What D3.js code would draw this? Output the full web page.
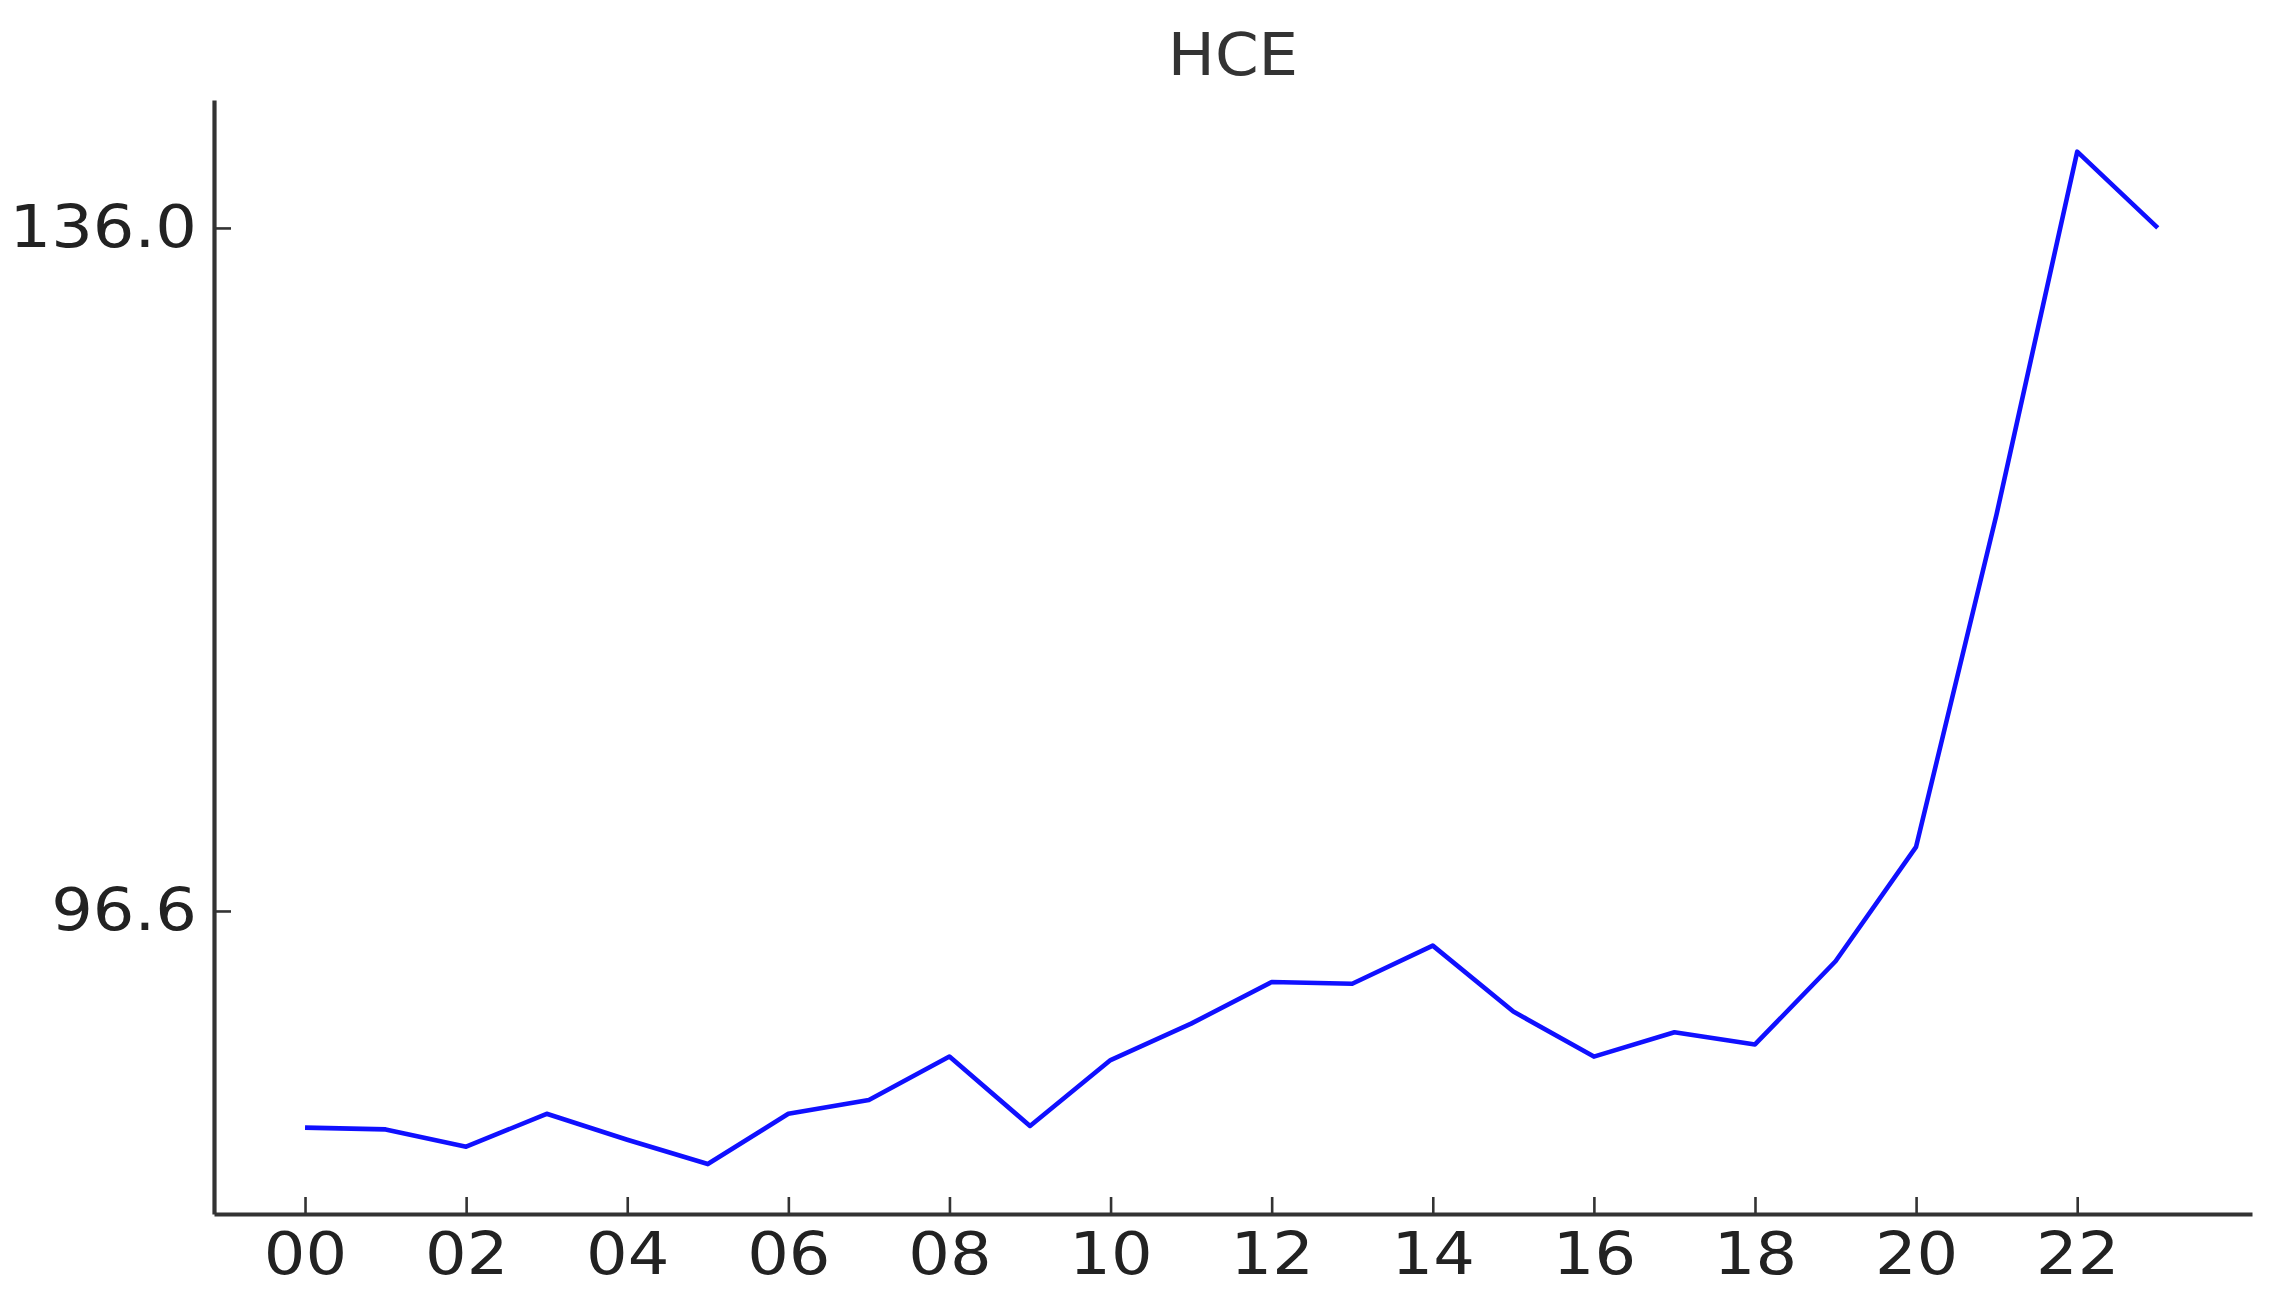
<!DOCTYPE html>
<html>
<head>
<meta charset="utf-8">
<script src="https://cdn.jsdelivr.net/npm/d3@7"></script>
<style>
  html, body { margin: 0; padding: 0; background: #fff; }
  svg { display: block; }
  text { font-family: "DejaVu Sans", sans-serif; }
</style>
</head>
<body>
<svg id="chart" width="2269" height="1303"></svg>
<script>
// ---- data ----
const title = "HCE";
const hours = [0,1,2,3,4,5,6,7,8,9,10,11,12,13,14,15,16,17,18,19,20,21,22,23];
const values = [84.1, 84.0, 83.0, 84.9, 83.4, 82.0, 84.9, 85.7, 88.2, 84.2, 88.0, 90.1,
                92.5, 92.4, 94.6, 90.8, 88.2, 89.6, 88.9, 93.7, 100.3, 119.5, 140.4, 136.0];
const xTickValues = [0,2,4,6,8,10,12,14,16,18,20,22];
const xTickLabels = ["00","02","04","06","08","10","12","14","16","18","20","22"];
const yTickValues = [96.6, 136.0];
const yTickLabels = ["96.6", "136.0"];

// ---- layout ----
const svg = d3.select("#chart");
const plotLeft = 214, plotRight = 2252, plotTop = 100, plotBottom = 1214;
const textScale = "scale(1.13,1)";

const x = d3.scaleLinear().domain([-1.13, 24.17]).range([plotLeft, plotRight]);
const y = d3.scaleLinear().domain([79.12, 143.38]).range([plotBottom, plotTop]);

// title
const cx = (plotLeft + plotRight) / 2;
svg.append("text")
  .attr("x", cx)
  .attr("y", 75)
  .attr("text-anchor", "middle")
  .attr("font-size", 58)
  .attr("fill", "#333")
  .attr("transform", `translate(${cx},0) scale(1.08,1) translate(${-cx},0)`)
  .text(title);

// x axis
const xAxis = d3.axisBottom(x)
  .tickValues(xTickValues)
  .tickFormat((d, i) => xTickLabels[i])
  .tickSizeInner(-17)
  .tickSizeOuter(0)
  .tickPadding(19);

const gx = svg.append("g")
  .attr("transform", `translate(0,${plotBottom})`)
  .call(xAxis);
gx.select(".domain").attr("stroke", "#333").attr("stroke-width", 4.2);
gx.selectAll(".tick line").attr("stroke", "#333").attr("stroke-width", 2.6);
gx.selectAll(".tick text")
  .attr("font-size", 58)
  .attr("font-family", "DejaVu Sans, sans-serif")
  .attr("fill", "#222")
  .attr("transform", textScale);

// y axis
const yAxis = d3.axisLeft(y)
  .tickValues(yTickValues)
  .tickFormat((d, i) => yTickLabels[i])
  .tickSizeInner(-17)
  .tickSizeOuter(0)
  .tickPadding(15);

const gy = svg.append("g")
  .attr("transform", `translate(${plotLeft},0)`)
  .call(yAxis);
gy.select(".domain").attr("stroke", "#333").attr("stroke-width", 4.2);
gy.selectAll(".tick line").attr("stroke", "#333").attr("stroke-width", 2.6);
gy.selectAll(".tick text")
  .attr("font-size", 58)
  .attr("font-family", "DejaVu Sans, sans-serif")
  .attr("fill", "#222")
  .attr("transform", textScale);

// line
const line = d3.line()
  .x((d, i) => x(hours[i]))
  .y(d => y(d));

svg.append("path")
  .datum(values)
  .attr("fill", "none")
  .attr("stroke", "#1010ff")
  .attr("stroke-width", 4.6)
  .attr("stroke-linejoin", "round")
  .attr("d", line);
</script>
</body>
</html>
